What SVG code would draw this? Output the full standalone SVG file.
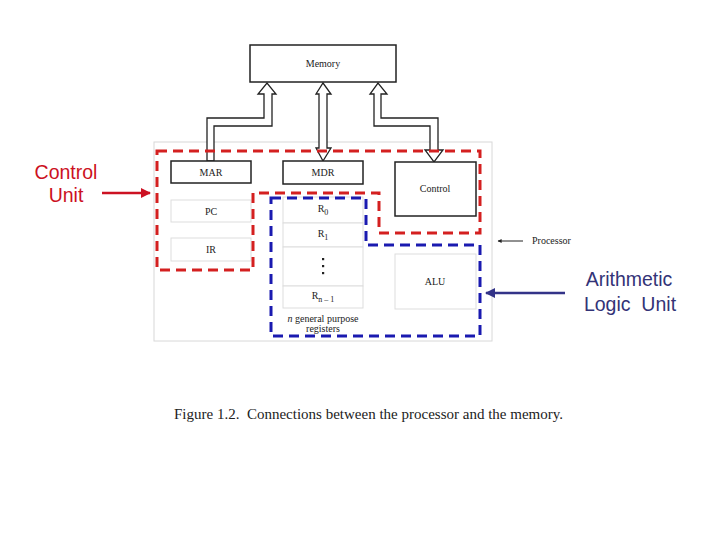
<svg xmlns="http://www.w3.org/2000/svg" width="720" height="540" viewBox="0 0 720 540">
<style>
.box{fill:#fff;stroke:#222;stroke-width:1.5}
.lbox{fill:#fff;stroke:#ddd;stroke-width:1}
.t{font-family:"Liberation Serif",serif;font-size:10px;fill:#222;text-anchor:middle}
.bus{fill:#fff;stroke:#222;stroke-width:1.3;stroke-linejoin:miter}
.lab{font-family:"Liberation Sans",Arial,sans-serif;font-size:19.5px}
</style>
<defs>
<marker id="ar" viewBox="0 0 10 10" refX="9" refY="5" markerWidth="4" markerHeight="4" orient="auto"><path d="M0,0L10,5L0,10Z" fill="#cc1122"/></marker>
<marker id="ab" viewBox="0 0 10 10" refX="9" refY="5" markerWidth="4" markerHeight="4" orient="auto"><path d="M0,0L10,5L0,10Z" fill="#333388"/></marker>
<marker id="ak" viewBox="0 0 10 10" refX="9" refY="5" markerWidth="5" markerHeight="4" orient="auto"><path d="M0,0L10,5L0,10Z" fill="#222"/></marker>
</defs>
<rect width="720" height="540" fill="#fff"/>
<rect x="154" y="142" width="338" height="199" fill="#fff" stroke="#d8d8d8" stroke-width="1"/>
<g id="connectors">
<polygon class="bus" points="207,161 207,118 264,118 264,94 258,94 267,83 276,94 272,94 272,126 214,126 214,161"/>
<polygon class="bus" points="319,148 319,94 316,94 323,83 331,94 327,94 327,148 331,148 323,161 316,148"/>
<polygon class="bus" points="374,94 370,94 378,83 387,94 381,94 381,118 438,118 438,150 443,150 434,162 425,150 430,150 430,126 374,126"/>
<line x1="523" y1="241" x2="498" y2="241" stroke="#222" stroke-width="1" marker-end="url(#ak)"/>
<line x1="102" y1="193" x2="150" y2="193" stroke="#cc1122" stroke-width="2.5" marker-end="url(#ar)"/>
<line x1="565" y1="293" x2="486" y2="293" stroke="#333388" stroke-width="2.5" marker-end="url(#ab)"/>
</g>
<g id="memory"><rect class="box" x="250" y="45" width="146" height="37"/><text class="t" x="323" y="67">Memory</text></g>
<g id="mar"><rect class="box" x="171" y="161" width="80" height="22"/><text class="t" x="211" y="176">MAR</text></g>
<g id="mdr"><rect class="box" x="283" y="161" width="80" height="23"/><text class="t" x="323" y="176">MDR</text></g>
<g id="control"><rect class="box" x="395" y="162" width="81" height="54"/><text class="t" x="435" y="192">Control</text></g>
<g id="pc"><rect class="lbox" x="171" y="200" width="80" height="22"/><text class="t" x="211" y="215">PC</text></g>
<g id="ir"><rect class="lbox" x="171" y="238" width="80" height="23"/><text class="t" x="211" y="253">IR</text></g>
<g id="registers">
<rect class="lbox" x="283" y="197" width="80" height="26"/>
<rect class="lbox" x="283" y="223" width="80" height="24"/>
<rect class="lbox" x="283" y="247" width="80" height="39"/>
<rect class="lbox" x="283" y="286" width="80" height="22"/>
<text class="t" x="323" y="212">R<tspan font-size="8" dy="3">0</tspan></text>
<text class="t" x="323" y="237">R<tspan font-size="8" dy="3">1</tspan></text>
<rect x="322" y="258" width="2.2" height="2.2" fill="#222"/>
<rect x="322" y="265" width="2.2" height="2.2" fill="#222"/>
<rect x="322" y="272" width="2.2" height="2.2" fill="#222"/>
<text class="t" x="323" y="299">R<tspan font-size="8" dy="3">n – 1</tspan></text>
<text class="t" x="323" y="322"><tspan font-style="italic">n</tspan> general purpose</text>
<text class="t" x="323" y="332">registers</text>
</g>
<g id="alu"><rect class="lbox" x="395" y="254" width="81" height="55"/><text class="t" x="435" y="285">ALU</text></g>
<g id="processor"><text x="532" y="244" style="font-family:'Liberation Serif',serif;font-size:10px;fill:#222">Processor</text></g>
<g id="control-unit-region"><path d="M157,151H480V233H379V193H253V270H157Z" fill="none" stroke="#d42020" stroke-width="3" stroke-dasharray="10,6"/></g>
<g id="alu-region"><path d="M271,198H366V245H480V336H271Z" fill="none" stroke="#1a1ab0" stroke-width="3" stroke-dasharray="10,6"/></g>
<g id="control-unit-label"><text class="lab" x="66" y="179" text-anchor="middle" fill="#cc1122">Control</text><text class="lab" x="66" y="202" text-anchor="middle" fill="#cc1122">Unit</text></g>
<g id="alu-label"><text class="lab" x="629" y="286" text-anchor="middle" fill="#333377">Arithmetic</text><text class="lab" x="630" y="311" text-anchor="middle" fill="#333377" xml:space="preserve">Logic  Unit</text></g>
<text x="174" y="419" textLength="389" style="font-family:'Liberation Serif',serif;font-size:15px;fill:#222" xml:space="preserve">Figure 1.2.  Connections between the processor and the memory.</text>
</svg>
